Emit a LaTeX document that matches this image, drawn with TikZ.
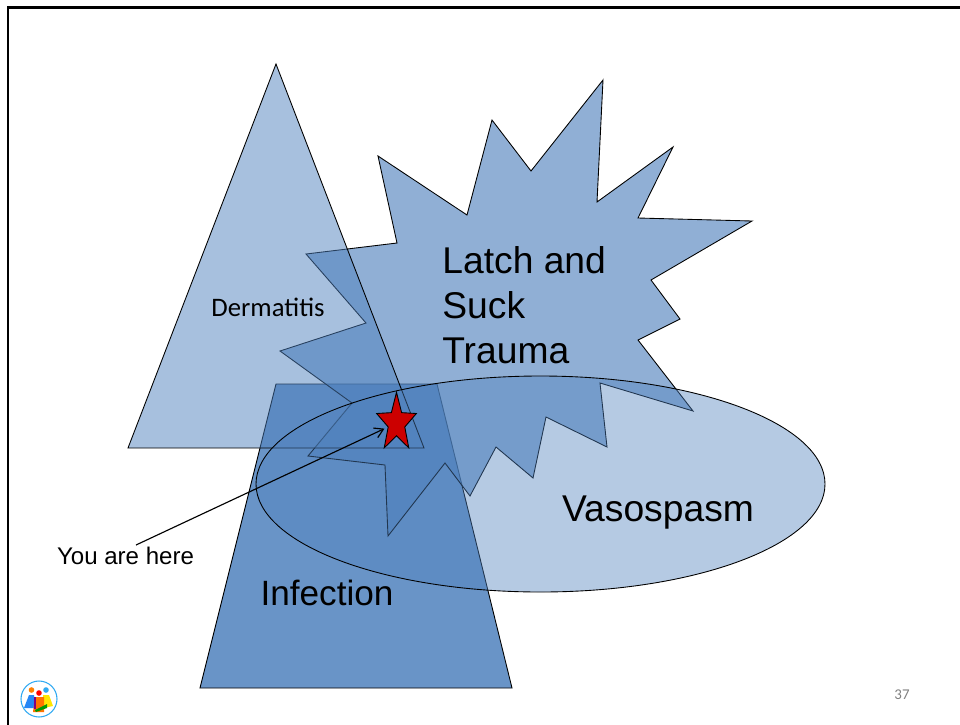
\documentclass[tikz,border=0pt]{standalone}
\usepackage{fontspec}
\setmainfont{Liberation Sans}
\newfontfamily\calibri{Carlito}
\usetikzlibrary{shapes.geometric, arrows.meta}
\definecolor{shapeblue}{HTML}{4F81BD}
\definecolor{logoblue}{HTML}{2FA9F2}
\tikzset{
    region/.style={draw=black, line width=.5pt, fill=shapeblue},
    bigtext/.style={font=\fontsize{21.2}{25.5}\selectfont, inner sep=0pt},
    smalltext/.style={font=\fontsize{13.7}{16}\selectfont, inner sep=0pt}
}
\begin{document}
\begin{tikzpicture}[x=.02cm, y=-.02cm]
    \useasboundingbox (0,0) rectangle (960,724);
    \clip (0,0) rectangle (960,724);
    \draw[line width=1.7pt] (8,760) -- (8,7.5) -- (1000,7.5);
    % overlapping regions
    \draw[region, fill opacity=.85] (276,384) -- (437,384) -- (512,688) -- (200,688) -- cycle;
    \draw[region, fill opacity=.63] (603,80) -- (597,202) -- (673,147) -- (638,218) -- (752,221) -- (651,280)
        -- (680,319) -- (638,340) -- (693,411) -- (600,383) -- (607,447) -- (546,417) -- (533,478) -- (496,447)
        -- (470,496) -- (445,463) -- (388,536) -- (385,465) -- (308,456) -- (352,403) -- (280,351) -- (366,323)
        -- (306,254) -- (397,243) -- (378,156) -- (467,215) -- (492,120) -- (531,171) -- cycle;
    \draw[region, fill opacity=.5] (276,64) -- (128,448) -- (424,448) -- cycle;
    \draw[region, fill opacity=.42] (540.5,484) ellipse (284.5 and 108);
    % labels
    \node[smalltext, font=\calibri\fontsize{15.2}{18}\selectfont] (dermatitis) at (268,307) {Dermatitis};
    \node[bigtext, anchor=west, align=left] (latch) at (442,305) {Latch and\\Suck\\Trauma};
    \node[bigtext] (vasospasm) at (658,513) {Vasospasm};
    \node[bigtext, font=\fontsize{20}{24}\selectfont] (infection) at (327,593) {Infection};
    \node[smalltext] (you) at (125.5,556) {You are here};
    \node[star, star points=5, star point ratio=2.4, draw=black, line width=.5pt, fill=red!80!black,
        minimum size=23.8pt, inner sep=0pt, yscale=1.47, transform shape] (redstar) at (396.5,423) {};
    \coordinate (youstart) at (136,545);
    \draw[-{Straight Barb[length=5pt, width=6pt]}, line width=.65pt, shorten >=2pt] (youstart) -- (redstar);
    \node[text=black!50, font=\calibri\fontsize{8.5}{10}\selectfont, inner sep=0pt] (slide) at (902,695) {37};
    % logo
    \draw[logoblue, line width=.6pt, fill=white] (39,699) circle (18);
    \fill[orange] (31.5,690) circle (2.8);
    \fill[red] (39,693) circle (2.8);
    \fill[logoblue] (46,690) circle (2.8);
    \fill[logoblue!80!blue] (29,695) -- (34,695) -- (36,708) -- (24,708) -- cycle;
    \fill[yellow!90!orange] (43,695) -- (49,695) -- (53,706) -- (43,708) -- cycle;
    \fill[orange!90!red] (35,697) -- (44,697) -- (44,712) -- (33,712) -- cycle;
    \fill[violet] (34,697) -- (36,697) -- (36,709) -- (34,709) -- cycle;
    \fill[green!60!black] (35,710) -- (47,704) -- (47,708) -- (36,712) -- cycle;
\end{tikzpicture}
\end{document}
